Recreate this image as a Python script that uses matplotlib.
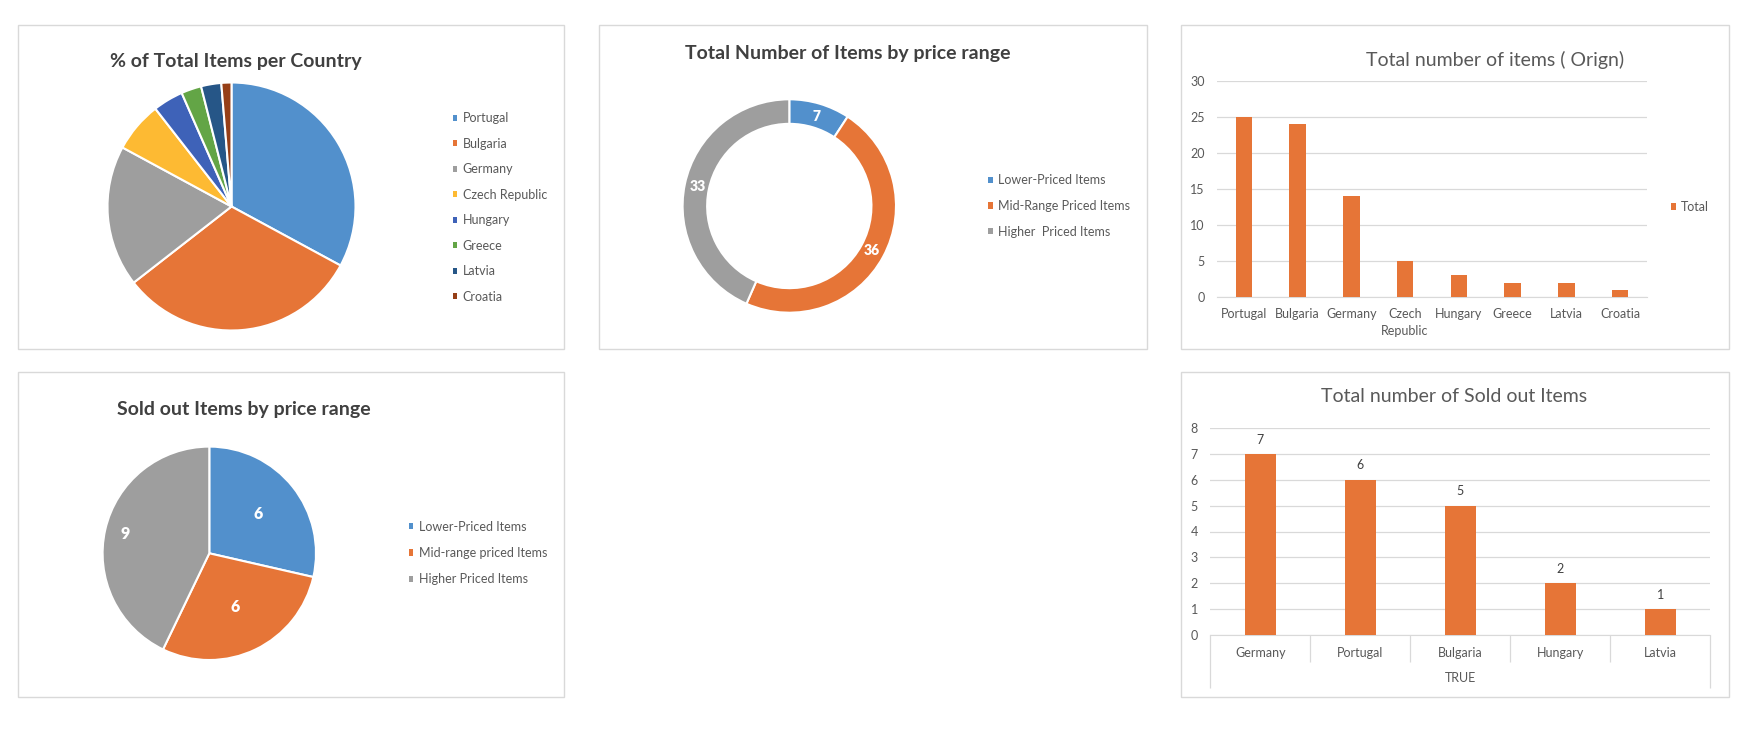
import matplotlib
matplotlib.use("Agg")
import matplotlib.pyplot as plt
from matplotlib.patches import Patch, Rectangle
import numpy as np

plt.rcParams['font.family'] = ['Lato', 'DejaVu Sans']

# -------------------------
# data
# -------------------------
countries = ['Portugal', 'Bulgaria', 'Germany', 'Czech Republic', 'Hungary',
             'Greece', 'Latvia', 'Croatia']
country_items = [25, 24, 14, 5, 3, 2, 2, 1]
bar_labels = ['Portugal', 'Bulgaria', 'Germany', 'Czech\nRepublic', 'Hungary',
              'Greece', 'Latvia', 'Croatia']

price_ranges = ['Lower-Priced Items', 'Mid-Range Priced Items', 'Higher  Priced Items']
price_items = [7, 36, 33]

sold_ranges = ['Lower-Priced Items', 'Mid-range priced Items', 'Higher Priced Items']
sold_items = [6, 6, 9]

sold_countries = ['Germany', 'Portugal', 'Bulgaria', 'Hungary', 'Latvia']
sold_counts = [7, 6, 5, 2, 1]

# -------------------------
# styles
# -------------------------
country_colors = ['#5290CC', '#E67537', '#9E9E9E', '#FDBA33', '#3E62B8',
                  '#63A546', '#265687', '#963F17']
range_colors = ['#5290CC', '#E67537', '#9E9E9E']
bar_color = '#E67537'
grid_c = '#D9D9D9'
title_c = '#404040'
text_c = '#595959'

W, H = 1758, 733
fig = plt.figure(figsize=(W / 100, H / 100), dpi=100)


def box(x0, y0, x1, y1):
    # pixel box (top-left origin) -> figure fraction rect
    return [x0 / W, 1 - y1 / H, (x1 - x0) / W, (y1 - y0) / H]


def ftext(x, y, s, **kw):
    fig.text(x / W, 1 - y / H, s, ha='center', va='center', **kw)


def frame(x0, y0, x1, y1):
    fig.add_artist(Rectangle((x0 / W, 1 - y1 / H), (x1 - x0) / W, (y1 - y0) / H,
                             transform=fig.transFigure, fill=False,
                             edgecolor=grid_c, lw=1))


def legend(ax, labels, colors, x, y, spacing):
    handles = [Patch(facecolor=c, edgecolor='none') for c in colors]
    ax.legend(handles, labels, loc='center left', bbox_to_anchor=(x / W, 1 - y / H),
              bbox_transform=fig.transFigure, frameon=False, fontsize=9,
              handlelength=0.38, handleheight=0.38, handletextpad=0.42,
              labelspacing=spacing, borderpad=0, borderaxespad=0,
              labelcolor=text_c)


def style_bars(ax):
    ax.grid(axis='y', color=grid_c, lw=0.9, zorder=0)
    for s in ['top', 'right', 'left']:
        ax.spines[s].set_visible(False)
    ax.spines['bottom'].set_color(grid_c)
    ax.tick_params(axis='both', length=0, labelsize=9, labelcolor=text_c)


for b in [(18, 25, 564, 349), (599, 25, 1147, 349), (1181, 25, 1729, 349),
          (18, 372, 564, 697), (1181, 372, 1729, 697)]:
    frame(*b)

# -------------------------
# 1. pie per country
# -------------------------
ax1 = fig.add_axes(box(107.5, 82.5, 355.5, 330.5))
ax1.pie(country_items, colors=country_colors, startangle=90, counterclock=False,
        wedgeprops=dict(edgecolor='white', linewidth=1.5))
ax1.set_xlim(-1, 1)
ax1.set_ylim(-1, 1)
ftext(236, 62, '% of Total Items per Country', fontsize=14, fontweight='bold', color=title_c)
legend(ax1, countries, country_colors, 452.7, 207.5, 1.08)

# -------------------------
# 2. donut by price range
# -------------------------
ax2 = fig.add_axes(box(682.6, 99.3, 896, 312.7))
ax2.pie(price_items, colors=range_colors, startangle=90, counterclock=False,
        autopct=lambda p: '{:.0f}'.format(p * sum(price_items) / 100),
        pctdistance=0.88,
        textprops=dict(color='white', fontweight='heavy', fontsize=10),
        wedgeprops=dict(width=0.23, edgecolor='white', linewidth=1.5))
ax2.set_xlim(-1, 1)
ax2.set_ylim(-1, 1)
ftext(848, 53, 'Total Number of Items by price range', fontsize=14, fontweight='bold', color=title_c)
legend(ax2, price_ranges, range_colors, 988, 206, 1.09)

# -------------------------
# 3. bars per country
# -------------------------
ax3 = fig.add_axes(box(1217, 81, 1647, 297))
x3 = np.arange(len(country_items))
ax3.bar(x3, country_items, width=0.31, color=bar_color, zorder=3, label='Total')
ax3.set_xlim(-0.5, len(country_items) - 0.5)
ax3.set_ylim(0, 30)
ax3.set_yticks(range(0, 31, 5))
ax3.set_xticks(x3)
ax3.set_xticklabels(bar_labels, linespacing=1.45)
style_bars(ax3)
ax3.tick_params(axis='x', pad=8)
ax3.tick_params(axis='y', pad=9)
ftext(1494.7, 60, 'Total number of items ( Orign)', fontsize=14, color=text_c)
legend(ax3, ['Total'], [bar_color], 1671, 207, 1.0)

# -------------------------
# 4. pie of sold out items
# -------------------------
ax4 = fig.add_axes(box(102.6, 446.6, 316, 660))
w4, t4, a4 = ax4.pie(sold_items, colors=range_colors, startangle=90, counterclock=False,
                     autopct=lambda p: '{:.0f}'.format(p * sum(sold_items) / 100),
                     textprops=dict(color='white', fontweight='heavy', fontsize=11.5),
                     wedgeprops=dict(edgecolor='white', linewidth=1.5))
label_r = [0.59, 0.56, 0.81]
for w, t, r in zip(w4, a4, label_r):
    ang = np.deg2rad((w.theta1 + w.theta2) / 2)
    t.set_position((r * np.cos(ang), r * np.sin(ang)))
ax4.set_xlim(-1, 1)
ax4.set_ylim(-1, 1)
ftext(243.4, 409, 'Sold out Items by price range', fontsize=14, fontweight='bold', color=title_c)
legend(ax4, sold_ranges, range_colors, 408.7, 553, 1.15)

# -------------------------
# 5. sold out bars
# -------------------------
ax5 = fig.add_axes(box(1210.5, 428, 1710.3, 635))
x5 = np.arange(len(sold_counts))
bars5 = ax5.bar(x5, sold_counts, width=0.31, color=bar_color, zorder=3)
ax5.bar_label(bars5, padding=6, fontsize=9, color='#404040')
ax5.set_xlim(-0.5, len(sold_counts) - 0.5)
ax5.set_ylim(0, 8)
ax5.set_yticks(range(0, 9))
ax5.set_xticks(x5)
ax5.set_xticklabels(sold_countries)
style_bars(ax5)
ax5.tick_params(axis='x', pad=8.5)
ax5.tick_params(axis='y', pad=9)
# multi-level category axis: separators and the outer "TRUE" group
sep = np.arange(len(sold_counts) + 1) - 0.5
ax5.vlines(sep[1:-1], -26.7 / 207, 0, transform=ax5.get_xaxis_transform(),
           color=grid_c, lw=0.9, clip_on=False)
ax5.vlines([sep[0], sep[-1]], -53.3 / 207, 0, transform=ax5.get_xaxis_transform(),
           color=grid_c, lw=0.9, clip_on=False)
ax5.text((len(sold_counts) - 1) / 2, -43.3 / 207, 'TRUE', transform=ax5.get_xaxis_transform(),
         ha='center', va='center', fontsize=9, color=text_c)
ftext(1453.7, 397, 'Total number of Sold out Items', fontsize=14, color=text_c)

fig.savefig('out.png', dpi=100)
